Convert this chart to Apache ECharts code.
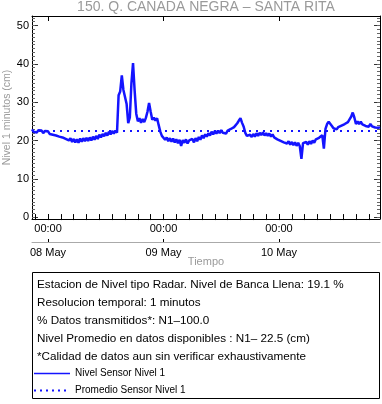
<!DOCTYPE html>
<html><head><meta charset="utf-8">
<script src="https://cdn.jsdelivr.net/npm/echarts@6/dist/echarts.min.js"></script>
<style>html,body{margin:0;padding:0;background:#fff}#c{width:382px;height:404px}</style>
</head><body><div id="c"></div>
<script>
const chartTitle = '150. Q. CANADA NEGRA – SANTA RITA';
const yAxisName = 'Nivel 1 minutos (cm)';
const xAxisName = 'Tiempo';
const seriesNames = ['Nivel Sensor Nivel 1', 'Promedio Sensor Nivel 1'];
const startTime = Date.UTC(2024, 4, 7, 20, 40); // 07 May 20:40
const stepMinutes = 20;
const nivel = [
  22.9, 22.3, 22.8, 22.1, 22.7, 22.2, 22.6, 21.9, 22.5, 22.0,
  22.4, 21.7, 22.2, 21.5, 21.9, 21.3, 21.8, 21.0, 21.5, 20.8,
  21.2, 20.4, 20.9, 20.0, 20.6, 19.6, 20.4, 19.5, 20.3, 19.4,
  20.5, 19.7, 20.6, 19.8, 20.7, 19.9, 20.8, 20.0, 21.0, 20.2,
  21.2, 20.4, 21.5, 20.8, 21.7, 21.1, 22.0, 21.3, 22.3, 21.6,
  22.5, 21.8, 22.6, 22.0, 31.8, 32.8, 37.0, 33.2, 33.6, 29.5,
  24.5, 26.0, 35.0, 40.2, 33.0, 27.0, 25.0, 25.8, 24.6, 25.6,
  24.8, 25.9, 27.5, 29.8, 27.5, 25.4, 26.0, 25.2, 25.8, 24.0,
  22.3, 21.2, 20.9, 20.2, 20.8, 19.8, 20.6, 19.7, 20.5, 19.5,
  20.3, 19.3, 20.2, 18.6, 20.1, 19.4, 20.3, 19.2, 20.0, 19.6,
  20.4, 19.5, 20.6, 19.8, 20.9, 20.2, 21.3, 20.6, 21.6, 21.0,
  21.9, 21.3, 22.3, 21.6, 22.5, 21.8, 22.6, 21.9, 22.7, 22.0,
  22.5, 21.8, 22.6, 22.1, 23.0, 22.6, 23.5, 23.4, 24.5, 25.2,
  25.8, 24.6, 23.6, 22.0, 21.2, 20.8, 21.5, 20.9, 21.7, 21.0,
  21.9, 21.2, 22.0, 21.4, 22.1, 21.3, 21.9, 21.2, 21.8, 21.0,
  21.6, 20.8, 21.2, 20.3, 20.8, 19.9, 20.4, 19.5, 20.0, 19.2,
  19.8, 18.9, 19.6, 18.8, 19.5, 18.6, 19.4, 18.5, 15.2, 19.3,
  18.8, 19.6, 18.9, 19.8, 19.1, 20.0, 19.4, 20.3, 19.8, 20.7,
  20.6, 21.4, 17.9, 23.0, 24.3, 24.9, 24.5, 23.8, 23.2, 23.6,
  22.9, 23.5, 23.1, 23.9, 23.4, 24.3, 24.0, 24.8, 25.5, 26.2,
  27.3, 26.0, 24.3, 25.0, 24.3, 24.9, 24.2, 24.6, 23.8, 24.1,
  23.6, 24.3, 23.7, 24.1, 23.4, 23.9, 23.3, 23.5
];
const promedio = 22.5;
const yMajorTicks = [0, 10, 20, 30, 40, 50];
const dayLabels = ['08 May', '09 May', '10 May'];
const hourLabel = '00:00';
const infoLines = [
  'Estacion de Nivel tipo Radar. Nivel de Banca Llena: 19.1 %',
  'Resolucion temporal: 1 minutos',
  '% Datos transmitidos*: N1–100.0',
  'Nivel Promedio en datos disponibles : N1– 22.5 (cm)',
  '*Calidad de datos aun sin verificar exhaustivamente'
];

const MIN = 60000;
const xMin = startTime;
const xMax = startTime + (nivel.length - 1) * stepMinutes * MIN;
const dayTicks = [Date.UTC(2024,4,8), Date.UTC(2024,4,9), Date.UTC(2024,4,10)];
const minorX = [];
for (let t = dayTicks[0] - 160 * MIN; t <= xMax; t += 160 * MIN) if (t >= xMin) minorX.push(t);
const yMin = -0.5, yMax = 52.5;
const minorY = [];
for (let v = 0; v <= 52; v++) minorY.push(v);

const FONT = 'Liberation Sans, Arial, Helvetica, sans-serif';
const GREY = '#9a9a9a';
const BLUE = '#1414ff';
const lineData = nivel.map((v, i) => [startTime + i * stepMinutes * MIN, v]);

function xAx(opt) {
  return Object.assign({
    type: 'value', min: xMin, max: xMax, gridIndex: 0,
    splitLine: { show: false }, axisLine: { show: false },
    axisTick: { show: false }, axisLabel: { show: false }
  }, opt);
}
function yAx(opt) {
  return Object.assign({
    type: 'value', min: yMin, max: yMax, gridIndex: 0,
    splitLine: { show: false }, axisLine: { show: false },
    axisTick: { show: false }, axisLabel: { show: false }
  }, opt);
}

const chart = echarts.init(document.getElementById('c'), null, { renderer: 'canvas' });
chart.setOption({
  animation: false,
  textStyle: { fontFamily: FONT },
  title: {
    text: chartTitle, left: 206, top: 0, padding: 0, textAlign: 'center',
    textStyle: { color: GREY, fontSize: 14, fontWeight: 'normal', fontFamily: FONT, lineHeight: 14 }
  },
  grid: { left: 32, right: 2, top: 16, height: 203, containLabel: false, outerBoundsMode: 'none' },
  xAxis: [
    xAx({ position: 'bottom',
      axisLine: { show: true, onZero: false, lineStyle: { color: '#000', width: 1 } },
      axisTick: { show: true, inside: true, length: 5, customValues: dayTicks, lineStyle: { color: '#000' } },
      axisLabel: { show: true, customValues: dayTicks, formatter: () => hourLabel, color: '#000', fontSize: 11, margin: 4, fontFamily: FONT } }),
    xAx({ position: 'bottom',
      axisTick: { show: true, inside: true, length: 3, customValues: minorX, lineStyle: { color: '#000' } } }),
    xAx({ position: 'top',
      axisLine: { show: true, onZero: false, lineStyle: { color: '#000', width: 1 } },
      axisTick: { show: true, inside: true, length: 5, customValues: dayTicks, lineStyle: { color: '#000' } } }),
    xAx({ position: 'top',
      axisTick: { show: true, inside: true, length: 3, customValues: minorX, lineStyle: { color: '#000' } } }),
    xAx({ position: 'bottom', offset: 23,
      name: xAxisName, nameLocation: 'middle', nameGap: 14, nameMoveOverlap: false,
      nameTextStyle: { color: GREY, fontSize: 11, fontFamily: FONT },
      axisLine: { show: true, onZero: false, lineStyle: { color: '#aaa', width: 1 } },
      axisTick: { show: true, inside: true, length: 3, customValues: dayTicks, lineStyle: { color: '#000' } },
      axisLabel: { show: true, customValues: dayTicks, formatter: (v) => dayLabels[dayTicks.indexOf(v)] || '', color: '#000', fontSize: 11, margin: 5, fontFamily: FONT } })
  ],
  yAxis: [
    yAx({ position: 'left',
      name: yAxisName, nameLocation: 'middle', nameGap: 19, nameMoveOverlap: false,
      nameTextStyle: { color: GREY, fontSize: 10.5, fontFamily: FONT },
      axisLine: { show: true, onZero: false, lineStyle: { color: '#000', width: 1 } },
      axisTick: { show: true, inside: true, length: 6, customValues: yMajorTicks, lineStyle: { color: '#333' } },
      axisLabel: { show: true, customValues: yMajorTicks, color: '#000', fontSize: 11, margin: 3, fontFamily: FONT } }),
    yAx({ position: 'left',
      axisTick: { show: true, inside: true, length: 3, customValues: minorY, lineStyle: { color: '#666' } } }),
    yAx({ position: 'right',
      axisLine: { show: true, onZero: false, lineStyle: { color: '#000', width: 1 } },
      axisTick: { show: true, inside: true, length: 6, customValues: yMajorTicks, lineStyle: { color: '#333' } } }),
    yAx({ position: 'right',
      axisTick: { show: true, inside: true, length: 3, customValues: minorY, lineStyle: { color: '#666' } } })
  ],
  series: [
    { name: seriesNames[0], type: 'line', xAxisIndex: 0, yAxisIndex: 0,
      data: lineData, showSymbol: false, symbol: 'none',
      lineStyle: { color: BLUE, width: 2.5 }, z: 3 },
    { name: seriesNames[1], type: 'line', xAxisIndex: 0, yAxisIndex: 0,
      data: [[xMin, promedio], [xMax, promedio]], showSymbol: false, symbol: 'none',
      lineStyle: { color: BLUE, width: 2, type: [2, 5] }, z: 4 }
  ],
  graphic: [
    { type: 'rect', shape: { x: 32.5, y: 272.5, width: 347, height: 126 },
      style: { fill: null, stroke: '#000', lineWidth: 1 }, silent: true },
    ...infoLines.map((t, i) => ({
      type: 'text', x: 37, y: 285 + i * 18,
      style: { text: t, fill: '#000', font: '11.7px ' + FONT, textVerticalAlign: 'middle', textAlign: 'left' }
    })),
    { type: 'line', shape: { x1: 34, y1: 373.5, x2: 70, y2: 373.5 },
      style: { stroke: BLUE, lineWidth: 1.3 } },
    { type: 'text', x: 75, y: 373, style: { text: seriesNames[0], fill: '#000', font: '10px ' + FONT, textVerticalAlign: 'middle' } },
    { type: 'line', shape: { x1: 34, y1: 390.5, x2: 70, y2: 390.5 },
      style: { stroke: BLUE, lineWidth: 2, lineDash: [2, 4] } },
    { type: 'text', x: 75, y: 390, style: { text: seriesNames[1], fill: '#000', font: '10px ' + FONT, textVerticalAlign: 'middle' } }
  ]
});
</script></body></html>
